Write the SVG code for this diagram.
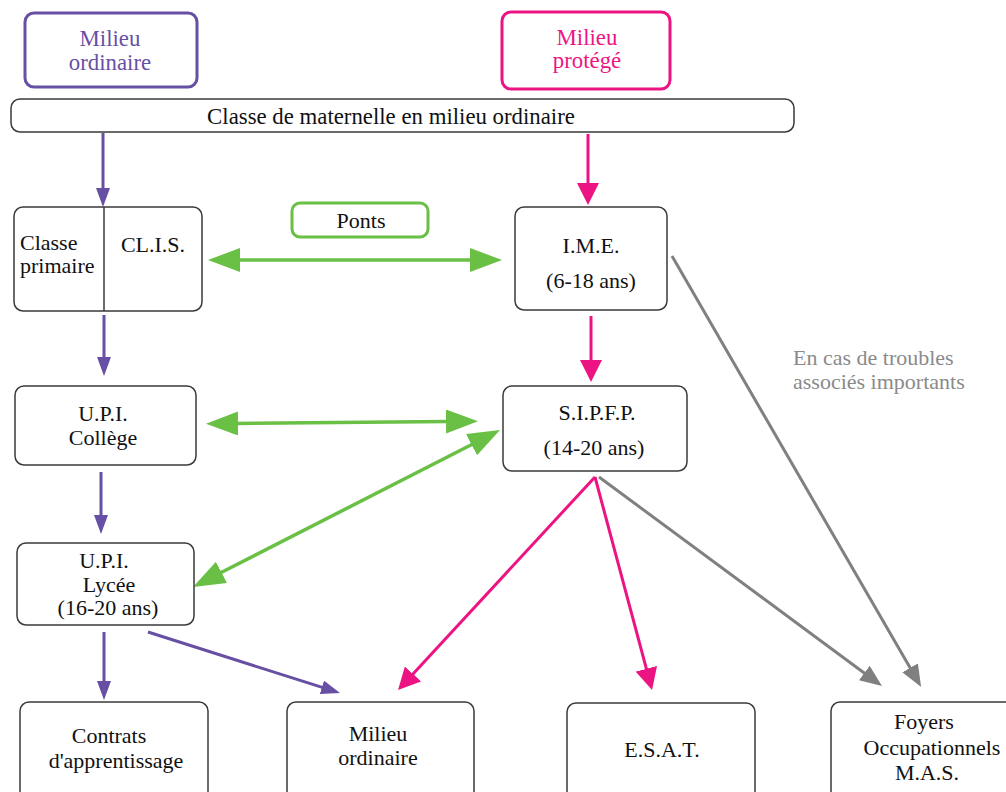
<svg xmlns="http://www.w3.org/2000/svg" width="1006" height="792" viewBox="0 0 1006 792">
<style>
svg text{font-family:'Liberation Serif',serif;font-size:22px;fill:#111;text-anchor:middle}
.box{fill:#fff;stroke:#3a3a3a;stroke-width:1.5}
.pur{stroke:#6750a4;stroke-width:3;fill:none}
.pnk{stroke:#ec1483;stroke-width:3;fill:none}
.grn{stroke:#6abf45;stroke-width:3.5;fill:none}
.gry{stroke:#808080;stroke-width:3;fill:none}
</style>
<defs>
<marker id="mp" markerUnits="userSpaceOnUse" markerWidth="19" markerHeight="14" refX="2" refY="7" orient="auto"><path d="M0,0 L19,7 L0,14 z" fill="#6750a4"/></marker>
<marker id="mk" markerUnits="userSpaceOnUse" markerWidth="22" markerHeight="22" refX="2" refY="11" orient="auto"><path d="M0,0 L22,11 L0,22 z" fill="#ec1483"/></marker>
<marker id="mg" markerUnits="userSpaceOnUse" markerWidth="32" markerHeight="24" refX="2" refY="12" orient="auto-start-reverse"><path d="M0,0 L32,12 L0,24 z" fill="#6abf45"/></marker>
<marker id="my" markerUnits="userSpaceOnUse" markerWidth="22" markerHeight="18" refX="2" refY="9" orient="auto"><path d="M0,0 L22,9 L0,18 z" fill="#808080"/></marker>
</defs>
<g id="connectors">
<line class="pur" x1="103" y1="133" x2="103" y2="190" marker-end="url(#mp)"/>
<line class="pnk" x1="588" y1="134" x2="588" y2="185" marker-end="url(#mk)"/>
<line class="pur" x1="104" y1="315" x2="104" y2="359" marker-end="url(#mp)"/>
<line class="pnk" x1="591" y1="316" x2="591" y2="362" marker-end="url(#mk)"/>
<line class="pur" x1="101" y1="472" x2="101" y2="517" marker-end="url(#mp)"/>
<line class="pur" x1="104" y1="632" x2="104" y2="683" marker-end="url(#mp)"/>
<line class="pur" x1="148" y1="632" x2="323.8" y2="687.9" marker-end="url(#mp)"/>
<line class="pnk" x1="595" y1="477" x2="411.6" y2="675.4" marker-end="url(#mk)"/>
<line class="pnk" x1="595" y1="477" x2="646.9" y2="670.7" marker-end="url(#mk)"/>
<line class="gry" x1="599" y1="477" x2="865.9" y2="674.2" marker-end="url(#my)"/>
<line class="gry" x1="672" y1="256" x2="911.1" y2="669.6" marker-end="url(#my)"/>
<line class="grn" x1="238" y1="260" x2="472" y2="260" marker-start="url(#mg)" marker-end="url(#mg)"/>
<line class="grn" x1="236" y1="423.5" x2="448" y2="421.5" marker-start="url(#mg)" marker-end="url(#mg)"/>
<line class="grn" x1="219.7" y1="573.3" x2="473.3" y2="443.7" marker-start="url(#mg)" marker-end="url(#mg)"/>
</g>
<g id="milieu-ordinaire-head"><rect x="25" y="13" width="172" height="74" rx="9" fill="#fff" stroke="#6750a4" stroke-width="3"/><text x="110" y="46" style="fill:#6750a4;font-size:22.8px">Milieu</text><text x="110" y="70" style="fill:#6750a4;font-size:22.8px">ordinaire</text></g>
<g id="milieu-protege-head"><rect x="502" y="12" width="168" height="77" rx="9" fill="#fff" stroke="#ec1483" stroke-width="3"/><text x="587" y="45" style="fill:#ec1483;font-size:22.8px">Milieu</text><text x="587" y="68" style="fill:#ec1483;font-size:22.8px">protégé</text></g>
<g id="maternelle"><rect class="box" x="11" y="99" width="783" height="33" rx="9"/><text x="391" y="124" style="font-size:22.8px">Classe de maternelle en milieu ordinaire</text></g>
<g id="primaire-clis"><rect class="box" x="14" y="207" width="188" height="104" rx="9"/><line x1="104" y1="207" x2="104" y2="311" stroke="#3a3a3a" stroke-width="1.5"/><text x="20" y="250" style="text-anchor:start">Classe</text><text x="20" y="273" style="text-anchor:start">primaire</text><text x="153" y="252">CL.I.S.</text></g>
<g id="ponts"><rect x="292" y="203" width="136" height="34" rx="8" fill="#fff" stroke="#6abf45" stroke-width="3"/><text x="361" y="228">Ponts</text></g>
<g id="ime"><rect class="box" x="515" y="207" width="152" height="103" rx="9"/><text x="591" y="253">I.M.E.</text><text x="591" y="288">(6-18 ans)</text></g>
<g id="upi-college"><rect class="box" x="15" y="386" width="181" height="79" rx="9"/><text x="103" y="421">U.P.I.</text><text x="103" y="445">Collège</text></g>
<g id="sipfp"><rect class="box" x="503" y="386" width="184" height="85" rx="9"/><text x="597" y="420">S.I.P.F.P.</text><text x="594" y="455">(14-20 ans)</text></g>
<g id="note"><text x="793" y="365" style="text-anchor:start;fill:#8a8a8a">En cas de troubles</text><text x="793" y="389" style="text-anchor:start;fill:#8a8a8a">associés importants</text></g>
<g id="upi-lycee"><rect class="box" x="17" y="543" width="177" height="82" rx="9"/><text x="104" y="568">U.P.I.</text><text x="109" y="592">Lycée</text><text x="108" y="615">(16-20 ans)</text></g>
<g id="contrats"><rect class="box" x="20" y="702" width="188" height="110" rx="9"/><text x="109" y="743">Contrats</text><text x="116" y="768">d'apprentissage</text></g>
<g id="milieu-ordinaire"><rect class="box" x="287" y="702" width="187" height="110" rx="9"/><text x="378" y="741">Milieu</text><text x="378" y="765">ordinaire</text></g>
<g id="esat"><rect class="box" x="567" y="703" width="188" height="110" rx="9"/><text x="662" y="757">E.S.A.T.</text></g>
<g id="foyers"><rect class="box" x="831" y="702" width="190" height="110" rx="9"/><text x="924" y="729">Foyers</text><text x="932" y="755">Occupationnels</text><text x="927" y="780">M.A.S.</text></g>
</svg>
